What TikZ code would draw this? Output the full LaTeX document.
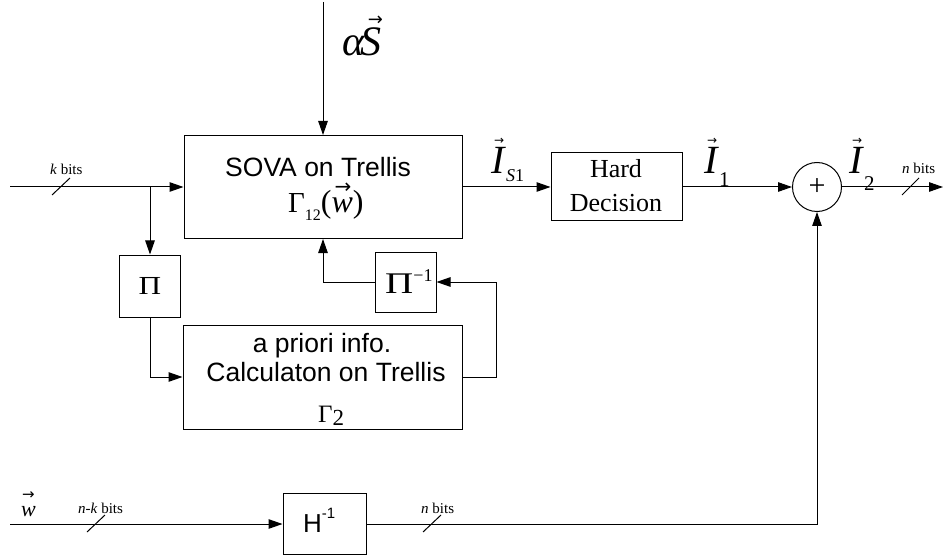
\documentclass[tikz,border=0pt]{standalone}
\usepackage{graphicx}
\usepackage{fontspec}
\setmainfont{Liberation Serif}
\newfontfamily\arial{Liberation Sans}
\newfontfamily\djv{DejaVu Sans}
\usetikzlibrary{arrows.meta}
\newcommand\fs[1]{\fontsize{#1}{#1}\selectfont}
% #1 x shift, #2 raise, #3 arrow size, #4 content
\newcommand\vecover[4]{\leavevmode\rlap{\kern#1\raisebox{#2}{\djv\fs{#3}→}}#4}
\begin{document}
\begin{tikzpicture}[x=1pt,y=-1pt,
  box/.style={draw, line width=1pt, inner sep=0pt},
  arr/.style={line width=1pt, -{Triangle[length=14pt,width=9.5pt]}},
  ln/.style={line width=1pt},
  lbl/.style={inner sep=0pt, anchor=base west},
  lblc/.style={inner sep=0pt, anchor=base}]
\useasboundingbox (0,0) rectangle (945,556);
% blocks
\node[box, minimum width=278pt, minimum height=103pt] (sova) at (323,187) {};
\node[box, minimum width=131pt, minimum height=68pt] (hard) at (616.5,187) {};
\node[circle, draw, line width=1pt, minimum size=49pt, inner sep=0pt] (sum) at (817,187) {\fs{30}+};
\node[box, minimum width=61pt, minimum height=62pt] (pi) at (150,286) {\fs{26}\scalebox{1.2}[1]{Π}};
\node[box, minimum width=61pt, minimum height=60pt] (pinv) at (405.5,282) {};
\node[box, minimum width=279pt, minimum height=104pt] (apr) at (322.5,377) {};
\node[box, minimum width=83pt, minimum height=61pt] (hinv) at (324.5,524) {};
% block texts
\node[lblc] (sovat1) at (318,177) {\arial\fs{26.5}SOVA on Trellis};
\node[lbl] (sovat2) at (288,213) {\fs{29}Γ\raisebox{-8pt}{\fs{16}12}{\fs{32}(\vecover{3pt}{19pt}{20}{\textit{w}})}};
\node[lblc] (hardt1) at (616,178) {\fs{26}Hard};
\node[lblc] (hardt2) at (616,212) {\fs{26}Decision};
\node[lbl] (pinvt) at (385,293) {\fs{30}\scalebox{1.3}[1]{Π}\raisebox{12pt}{\fs{18}−1}};
\node[lblc] (aprt1) at (322,352) {\arial\fs{26.5}a priori info.};
\node[lblc] (aprt2) at (326,381) {\arial\fs{26.5}Calculaton on Trellis};
\node[lbl] (aprt3) at (318,422) {\fs{25}Γ\raisebox{-3pt}{\fs{23}2}};
\node[lbl] (hinvt) at (303,532) {\arial\fs{26}H\raisebox{14pt}{\fs{15}-1}};
% signal labels
\node[lbl] (alphas) at (342,56) {\fs{42}\textit{α}\kern-4pt\vecover{7pt}{30pt}{18}{\textit{S}}};
\node[lbl] (is1) at (491,174) {\fs{40}\vecover{3pt}{29pt}{12}{\textit{I}}\raisebox{-8pt}{\fs{18}\textit{S}1}};
\node[lbl] (i1) at (704,174) {\fs{40}\vecover{3pt}{29pt}{12}{\textit{I}}\raisebox{-13pt}{\fs{21}1}};
\node[lbl] (i2) at (849,174) {\fs{40}\vecover{3pt}{29pt}{12}{\textit{I}}\raisebox{-17pt}{\fs{21}2}};
\node[lbl] (wl) at (21,516) {\fs{22}\vecover{1pt}{17pt}{15}{\textit{w}}};
\node[lbl] (kb) at (50,175) {\fs{15}\textit{k} bits};
\node[lbl] (nb1) at (902,174) {\fs{15}\textit{n} bits};
\node[lbl] (nkb) at (78,513) {\fs{15}\textit{n}-\textit{k} bits};
\node[lbl] (nb2) at (421,513) {\fs{15}\textit{n} bits};
% coordinates
\coordinate (kin) at (10,187);
\coordinate (br) at (150,187);
\coordinate (atop) at (323,2);
\coordinate (fb) at (496,282);
\coordinate (out) at (943,187);
\coordinate (win) at (10,524);
% connectors
\draw[arr] (kin) -- (sova.west);
\draw[arr] (br) -- (pi.north);
\draw[arr] (pi.south) |- (apr.west);
\draw[arr] (apr.east) -| (fb) -- (pinv.east);
\draw[arr] (pinv.west) -| (sova.south);
\draw[arr] (atop) -- (sova.north);
\draw[arr] (sova.east) -- (hard.west);
\draw[arr] (hard.east) -- (sum.west);
\draw[arr] (sum.east) -- (out);
\draw[arr] (win) -- (hinv.west);
\draw[arr] (hinv.east) -| (sum.south);
% bus slashes
\draw[ln] (52,195) -- (70,178);
\draw[ln] (902,195) -- (919,178);
\draw[ln] (87,532) -- (105,515);
\draw[ln] (423,532) -- (441,515);
\end{tikzpicture}
\end{document}
